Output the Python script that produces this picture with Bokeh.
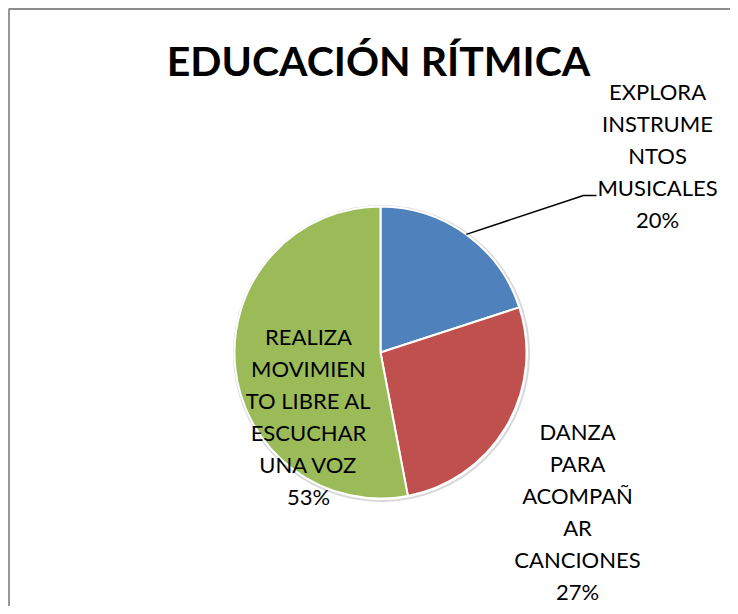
import math
from bokeh.plotting import figure
from bokeh.models import Range1d, ColumnDataSource
from bokeh.core.properties import value
from bokeh.embed import file_html
from bokeh.resources import INLINE

title = "EDUCACIÓN RÍTMICA"
categories = ["EXPLORA\nINSTRUME\nNTOS\nMUSICALES",
              "DANZA\nPARA\nACOMPAÑ\nAR\nCANCIONES",
              "REALIZA\nMOVIMIEN\nTO LIBRE AL\nESCUCHAR\nUNA VOZ"]
percents = [20, 27, 53]
colors = ["#4F81BD", "#C0504D", "#9BBB59"]

W, H = 730, 606
cx, cy, r = 380, 254, 146

total = sum(percents)
starts, ends, mids = [], [], []
cum = 0
for v in percents:
    a0 = math.pi / 2 - 2 * math.pi * cum / total
    cum += v
    a1 = math.pi / 2 - 2 * math.pi * cum / total
    starts.append(a0); ends.append(a1); mids.append((a0 + a1) / 2)

p = figure(width=W, height=H, x_range=Range1d(0, W), y_range=Range1d(0, H),
           min_border=0, output_backend="svg", toolbar_location=None,
           x_axis_location=None, y_axis_location=None)
p.grid.visible = False
p.outline_line_color = None
p.background_fill_color = "white"
p.border_fill_color = "white"

# chart area border (top and left visible)
p.line([8.5, 8.5, W], [0, H - 8.5, H - 8.5], line_color="#8c8c8c", line_width=1.8)

# faint shadow around pie
p.circle(x=[cx + 1], y=[cy - 1], radius=r + 1.5, fill_color=None,
         line_color="#d8d8d8", line_width=2)

src = ColumnDataSource(dict(start=starts, end=ends, color=colors))
p.wedge(x=cx, y=cy, radius=r, start_angle="start", end_angle="end",
        direction="clock", fill_color="color", line_color="white",
        line_width=2, source=src)

p.text(x=[378], y=[546], text=[title], text_font=value("Lato"),
       text_font_style="bold", text_font_size="41px", text_align="center",
       text_baseline="middle", text_color="black")

labels = [f"{c}\n{v}%" for c, v in zip(categories, percents)]
lx = [657, 577, 308]
ly = [451, 95, 190]
p.text(x=lx, y=ly, text=labels, text_font=value("Lato"),
       text_font_size="22px", text_align="center", text_baseline="middle",
       text_line_height=1.19, text_color="black")

# leader line for first slice
ex = cx + r * math.cos(mids[0])
ey = cy + r * math.sin(mids[0])
p.line([ex, 583, 596], [ey, 411, 411], line_color="black", line_width=1.5)

open("out.html", "w").write(file_html(p, INLINE))
